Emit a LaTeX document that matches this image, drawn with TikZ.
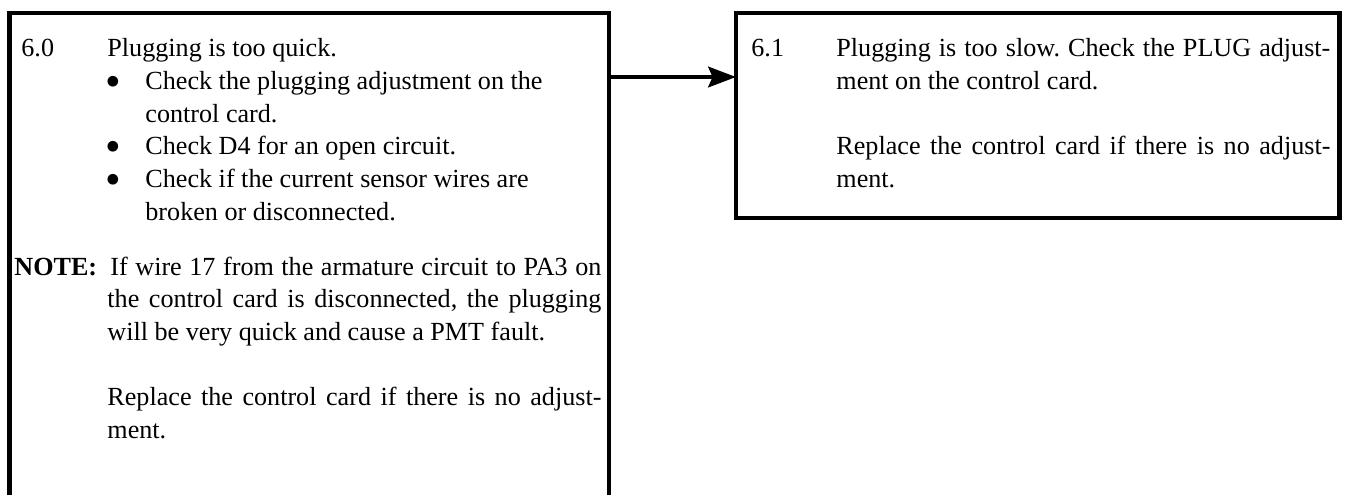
\documentclass[tikz,border=0pt]{standalone}
\usepackage{fontspec}
\setmainfont{Liberation Serif}
\usetikzlibrary{arrows.meta}
\newlength\pxu
\setlength\pxu{0.4706pt}
\newcommand\bodyfont{\fontsize{12.3pt}{15.39pt}\selectfont\frenchspacing}
\newcommand\dotfont{\fontsize{21pt}{21pt}\selectfont}
\tikzstyle{card} = [rectangle, draw=black, line width=2.2pt, outer sep=0pt, inner sep=0pt]
\tikzstyle{txt} = [anchor=base west, inner sep=0pt, font=\bodyfont]
\tikzstyle{textblock} = [txt, text width=494\pxu, align=justify]
\tikzstyle{itemblock} = [txt, text width=455\pxu, align=flush left]
\tikzstyle{dot} = [anchor=base west, inner sep=0pt, font=\dotfont]
\tikzstyle{arrow} = [line width=2.2pt, -{Stealth[length=13pt, width=9.6pt, inset=2pt]}]

\begin{document}
\begin{tikzpicture}[x=0.4706pt, y=-0.4706pt]
  \useasboundingbox (0,0) rectangle (1347,494);
  % boxes
  \node (box60) [card, minimum width=599.3\pxu, minimum height=587\pxu] at (309.35,306.5) {};
  \node (box61) [card, minimum width=603.5\pxu, minimum height=205\pxu] at (1037.75,115.5) {};

  % step 6.0
  \node (num60) [txt] at (21,56.7) {6.0};
  \node (head60) [txt] at (107,56.7) {Plugging is too quick.};
  \node (dot1) [dot] at (105,96) {\textbullet};
  \node (chk1) [itemblock] at (145,89.4) {Check the plugging adjustment on the\\control card.};
  \node (dot2) [dot] at (105,161.3) {\textbullet};
  \node (chk2) [txt] at (145,154.8) {Check D4 for an open circuit.};
  \node (dot3) [dot] at (105,194) {\textbullet};
  \node (chk3) [itemblock] at (145,187.5) {Check if the current sensor wires are\\broken or disconnected.};
  \node (notetag) [txt] at (14,275) {\textbf{NOTE:}};
  \node (notetxt) [textblock] at (107,275) {\hspace*{3\pxu}If wire 17 from the armature circuit to PA3 on\linebreak the control card is disconnected, the plugging\linebreak will be very quick and cause a PMT fault.};
  \node (repl60) [textblock] at (107,405.8) {Replace the control card if there is no adjust-\linebreak ment.};

  % step 6.1
  \node (num61) [txt] at (751,56.7) {6.1};
  \node (head61) [textblock] at (836,56.7) {Plugging is too slow. Check the PLUG adjust-\linebreak ment on the control card.};
  \node (repl61) [textblock] at (836,154.8) {Replace the control card if there is no adjust-\linebreak ment.};

  \coordinate (lvl) at (0,77);
  \draw[arrow] (box60.east |- lvl) -- (box61.west |- lvl);
\end{tikzpicture}
\end{document}
